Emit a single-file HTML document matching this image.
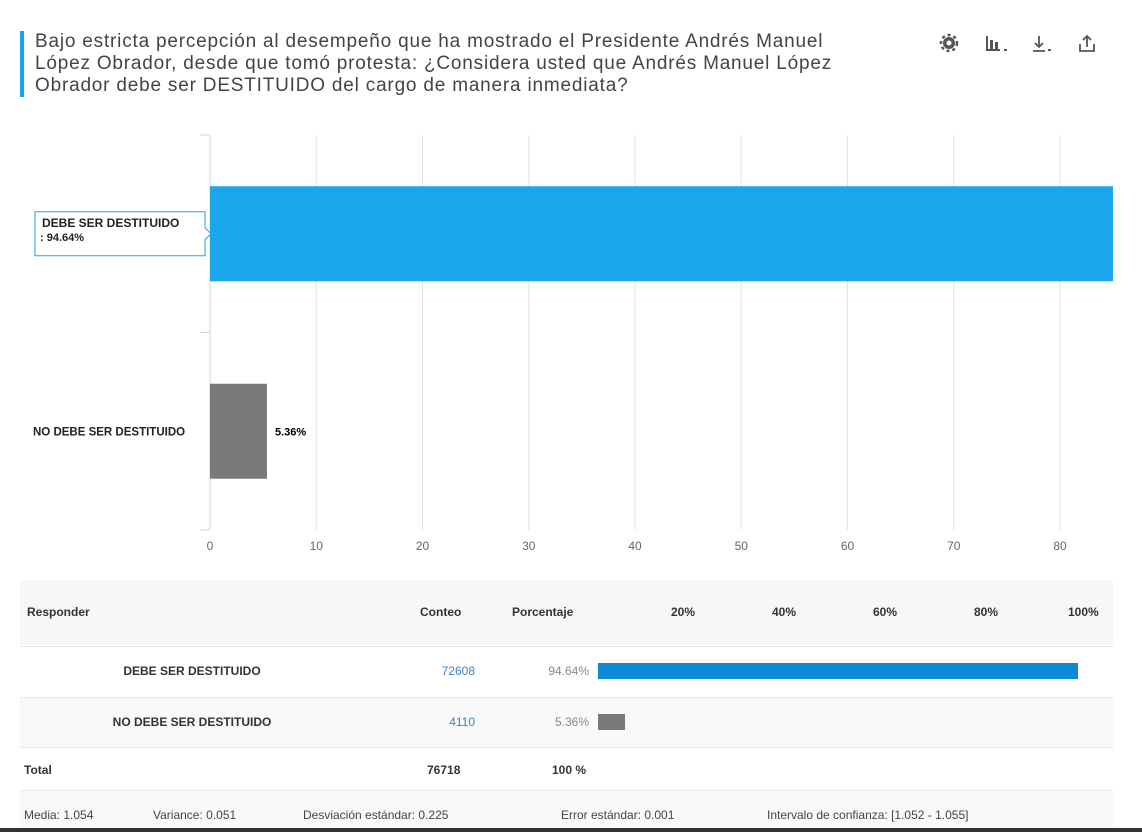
<!DOCTYPE html>
<html><head><meta charset="utf-8"><style>
body{margin:0;width:1142px;height:832px;background:#fff;font-family:"Liberation Sans",sans-serif;position:relative;overflow:hidden}
.abs{position:absolute}
#title{left:20px;top:31px;border-left:4px solid #1aa3e8;padding-left:11px;font-size:19px;line-height:22px;color:#444;width:800px;white-space:nowrap;letter-spacing:0.8px}
.row{position:absolute;left:20px;width:1093px;font-size:12px;color:#333}
.b{font-weight:bold}
.stats span{position:absolute;top:17px;font-size:12px;color:#444}
</style></head><body>
<div id="title" class="abs">Bajo estricta percepción al desempeño que ha mostrado el Presidente Andrés Manuel<br>López Obrador, desde que tomó protesta: ¿Considera usted que Andrés Manuel López<br>Obrador debe ser DESTITUIDO del cargo de manera inmediata?</div>
<svg class="abs" style="left:938px;top:32px" width="160" height="24">
<g><circle cx="11" cy="11" r="6" fill="#555"/><circle cx="11" cy="11" r="2.5" fill="#fff"/><circle cx="11" cy="11" r="8" fill="none" stroke="#555" stroke-width="2.5" stroke-dasharray="3 3"/></g>
<g fill="#555"><rect x="48" y="4" width="2" height="14"/><rect x="48" y="17" width="14" height="2"/><rect x="52" y="8" width="3" height="9"/><rect x="57" y="10" width="3" height="7"/><rect x="66" y="17" width="3" height="2"/></g>
<g stroke="#555" stroke-width="1.8" fill="none"><path d="M101 4v11M97 11l4 4 4-4M95 19h12"/><rect x="110" y="17" width="3" height="2" fill="#555" stroke="none"/></g>
<g stroke="#555" stroke-width="1.8" fill="none"><path d="M149 4v11M145 8l4-4 4 4M142 12v7h14v-7"/></g>
</svg>
<svg id="chart" class="abs" style="left:0;top:120px" width="1142" height="450"></svg>
<div class="row" style="top:580px;height:65px;background:#f7f7f7">
<span class="abs b" style="left:7px;top:25px">Responder</span>
<span class="abs b" style="left:400px;top:25px">Conteo</span>
<span class="abs b" style="left:492px;top:25px">Porcentaje</span>
<span class="abs b" style="left:651px;top:25px">20%</span>
<span class="abs b" style="left:752px;top:25px">40%</span>
<span class="abs b" style="left:853px;top:25px">60%</span>
<span class="abs b" style="left:954px;top:25px">80%</span>
<span class="abs b" style="left:1048px;top:25px">100%</span>
</div>
<div id="rows"></div>
<div class="row" style="top:747px;height:43px;border-top:1px solid #e8e8e8">
<span class="abs b" style="left:4px;top:15px">Total</span>
<span class="abs b" style="left:407px;top:15px">76718</span>
<span class="abs b" style="left:532px;top:15px">100 %</span>
</div>
<div class="row stats" style="top:790px;height:38px;background:#f9f9f9;border-top:1px solid #e8e8e8">
<span style="left:4px">Media: 1.054</span><span style="left:133px">Variance: 0.051</span><span style="left:283px">Desviación estándar: 0.225</span><span style="left:541px">Error estándar: 0.001</span><span style="left:747px">Intervalo de confianza: [1.052 - 1.055]</span>
</div>
<div class="abs" style="left:0;top:828px;width:1142px;height:4px;background:#333"></div>
<script>
const categories=["DEBE SER DESTITUIDO","NO DEBE SER DESTITUIDO"];
const percents=[94.64,5.36];
const counts=[72608,4110];
const ticks=[0,10,20,30,40,50,60,70,80];
const colors=["#1ba5ea","#7a7a7a"];
const tcolors=["#0b8bd6","#7a7a7a"];
const NS="http://www.w3.org/2000/svg";
const svg=document.getElementById('chart');
const x0=210,pxPer=10.625,clipR=1113,topY=15,bandH=197.5;
const xs=v=>x0+v*pxPer;
function el(t,a,p){const e=document.createElementNS(NS,t);for(const k in a)e.setAttribute(k,a[k]);(p||svg).appendChild(e);return e;}
ticks.forEach(t=>{
 if(t>0){const g=el('line',{x1:xs(t),x2:xs(t),y1:topY,y2:topY+2*bandH,stroke:'#e3e3e3'});}
 const l=el('text',{x:xs(t),y:topY+2*bandH+20,'text-anchor':'middle','font-size':12,fill:'#666','font-family':'Liberation Sans'});l.textContent=t;
 
});
const ax=el('line',{x1:x0,x2:x0,y1:topY,y2:topY+2*bandH,stroke:'#ccd6eb'});

[0,1,2].forEach(i=>{el('line',{x1:x0-10,x2:x0,y1:topY+i*bandH,y2:topY+i*bandH,stroke:'#ccd6eb'});});
categories.forEach((c,i)=>{
 const yc=topY+i*bandH+bandH/2, h=95;
 const w=Math.min(xs(percents[i]),clipR)-x0;
 const r=el('rect',{x:x0,y:yc-h/2,width:w,height:h,fill:colors[i]});
 
 if(i===0){
  const g=el('g',{});
  el('path',{d:`M35 ${yc-22}h170v16l6 6-6 6v16h-170z`,fill:'#fff',stroke:'#1ba5ea'},g);
  const t=el('text',{x:42,y:yc-7,'font-size':12,'font-weight':'bold',fill:'#222'},g);t.textContent=c;
  const t2=el('text',{x:40,y:yc+7,'font-size':11,'font-weight':'bold',fill:'#222'},g);t2.textContent=': '+percents[i].toFixed(2)+'%';
 } else {
  const t=el('text',{x:33,y:yc+4,'font-size':11.5,'font-weight':'bold',fill:'#222'});t.textContent=c;
  
  const v=el('text',{x:x0+w+8,y:yc+4,'font-size':11,'font-weight':'bold',fill:'#000'});v.textContent=percents[i].toFixed(2)+'%';
  
 }
});
const rows=document.getElementById('rows');
categories.forEach((c,i)=>{
 const d=document.createElement('div');d.className='row';
 
 
 d.style.top=(646+i*51)+'px';d.style.height='50px';d.style.borderTop='1px solid #e8e8e8';d.style.background=i?'#f9f9f9':'#fff';
 const w=percents[i]/100*507;
 d.innerHTML=`<span class="abs b" style="left:0;width:344px;text-align:center;top:17px">${c}</span>
 <span class="abs" style="right:638px;top:17px;color:#3f7fbf">${counts[i]}</span>
 <span class="abs" style="right:524px;top:17px;color:#888">${percents[i].toFixed(2)}%</span>
 <div class="abs" style="left:578px;top:16px;height:16px;width:${w}px;background:${tcolors[i]}"></div>`;
 rows.appendChild(d);
});
</script>
</body></html>
